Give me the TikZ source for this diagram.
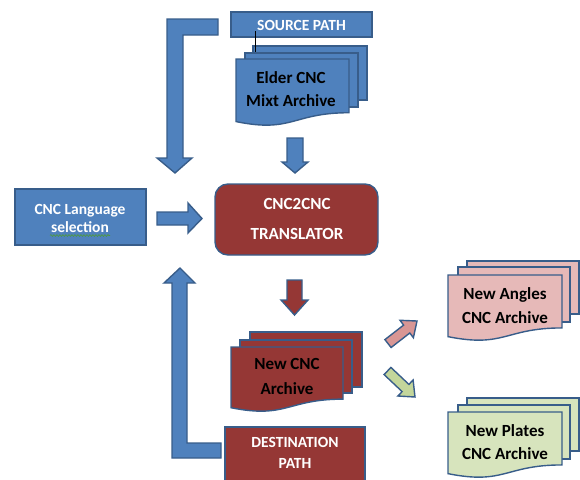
\documentclass[tikz,border=0pt]{standalone}
\usepackage{fontspec}
\setmainfont{Carlito}
\usetikzlibrary{decorations.pathmorphing}
\definecolor{bfill}{HTML}{4F81BD}
\definecolor{bline}{HTML}{385D8A}
\definecolor{rfill}{HTML}{953735}
\definecolor{pfill}{HTML}{E6B9B8}
\definecolor{parrow}{HTML}{D99694}
\definecolor{gfill}{HTML}{D7E4BD}
\definecolor{garrow}{HTML}{C3D69B}
\definecolor{squig}{HTML}{4E9A3A}
\newcommand\docpage[5]{%
  \path[shape part,fill=#1,shift={(#2,#3)},xscale=#4,yscale=#5]
    (0,0) -- (1,0) -- (1,0.802) .. controls (0.5,0.802) and (0.5,1.107) .. (0,0.934) -- cycle;}
\tikzset{
  shape part/.style={draw=bline,line width=1.4pt,line join=miter},
  wtext/.style={text=white,font=\bfseries\fontsize{15.5}{#1}\selectfont,align=center,inner sep=0pt},
  btext/.style={text=black,font=\bfseries\fontsize{17}{#1}\selectfont,align=center,inner sep=0pt},
  rtext/.style={text=white,font=\bfseries\fontsize{17}{#1}\selectfont,align=center,inner sep=0pt},
}
\begin{document}
\begin{tikzpicture}[x=1pt,y=-1pt]
\useasboundingbox (0,0) rectangle (580,479);
\clip (0,0) rectangle (580,479);
% ---- top left L arrow
\path[shape part,fill=bfill] (218,19) -- (167,19) -- (167,158) -- (157,158) -- (175,173) -- (192,158) -- (183,158) -- (183,35) -- (218,35) -- cycle;
% ---- source path
\path[shape part,fill=bfill] (231,12) rectangle (372,37);
\node[wtext=18] (src) at (301.5,25) {SOURCE PATH};
% ---- elder stack
\path[shape part,fill=bfill] (253,46) rectangle (367,100);
\path[shape part,fill=bfill] (245,53) rectangle (358,107);
\docpage{bfill}{236}{59}{113}{67}
\coordinate (linktop) at (255,31);
\coordinate (linkbot) at (255,52);
\draw[black,line width=0.8pt] (linktop) -- (linkbot);
\node[btext=23] (elder) at (291,89) {Elder CNC\\Mixt Archive};
% down arrow
\path[shape part,fill=bfill] (287,138) -- (303,138) -- (303,162) -- (308,162) -- (295,173) -- (282,162) -- (287,162) -- cycle;
% ---- CNC language
\path[shape part,fill=bfill] (15,189) rectangle (146,245);
\node[wtext=18] (lang) at (80,218.5) {CNC Language\\selection};
\coordinate (sqa) at (50,235.5);
\coordinate (sqb) at (110,235.5);
\draw[squig,line width=0.6pt,decorate,decoration={snake,amplitude=0.9pt,segment length=3pt}] (sqa) -- (sqb);
% right arrow
\path[shape part,fill=bfill] (157,212) -- (188,212) -- (188,203) -- (202,218.5) -- (188,233) -- (188,225) -- (157,225) -- cycle;
% ---- translator
\path[shape part,fill=rfill,rounded corners=13pt] (215,184) rectangle (378,255);
\node[rtext=30] (trans) at (297,219) {CNC2CNC\\TRANSLATOR};
% ---- bottom L arrow
\path[shape part,fill=bfill] (221,458) -- (172,458) -- (172,283) -- (164,283) -- (180,268) -- (195,283) -- (187,283) -- (187,443) -- (221,443) -- cycle;
% red down arrow
\path[shape part,fill=rfill] (287,280) -- (302,280) -- (302,300) -- (308,300) -- (294.5,315) -- (281,300) -- (287,300) -- cycle;
% ---- new CNC stack
\path[shape part,fill=rfill] (250,332) rectangle (362,387);
\path[shape part,fill=rfill] (240,340) rectangle (352,393);
\docpage{rfill}{231}{347}{112}{65}
\node[btext=25] (newcnc) at (287,376) {New CNC\\Archive};
% ---- destination
\path[shape part,fill=rfill] (225,427) rectangle (365,500);
\node[wtext=21] (dest) at (295,453) {DESTINATION\\PATH};
% ---- diagonal arrows
\path[shape part,fill=parrow] (391.1,347.5) -- (384.9,339.6) -- (403.6,325.1) -- (400,320.3) -- (417,321) -- (413.4,337.7) -- (409.8,333) -- cycle;
\path[shape part,fill=garrow] (384.1,374.6) -- (390.9,367.4) -- (408.9,384.4) -- (413.1,380) -- (415,397) -- (397.9,396) -- (402.1,391.6) -- cycle;
% ---- new angles stack
\path[shape part,fill=pfill] (467,261) rectangle (579,314);
\path[shape part,fill=pfill] (458,267) rectangle (570,322);
\docpage{pfill}{448}{275}{114}{66}
\node[btext=24] (angles) at (505,305.5) {New Angles\\CNC Archive};
% ---- new plates stack
\path[shape part,fill=gfill] (467,398) rectangle (579,451);
\path[shape part,fill=gfill] (458,405) rectangle (570,459);
\docpage{gfill}{448}{412}{114}{66}
\node[btext=23] (plates) at (505,442) {New Plates\\CNC Archive};
\end{tikzpicture}
\end{document}
